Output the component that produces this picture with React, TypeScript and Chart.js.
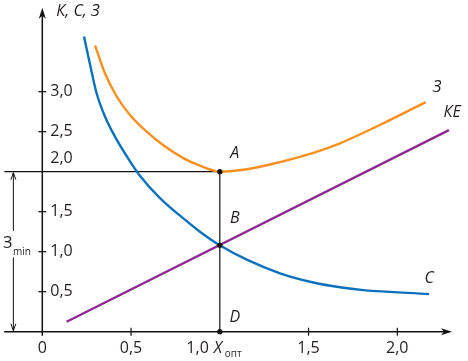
import React, { useEffect, useRef } from "react";
import { Chart, registerables } from "chart.js";
Chart.register(...registerables);

// Cost curve С (blue)
const cX = [0.235, 0.269, 0.306, 0.353, 0.419, 0.494, 0.55, 0.663, 0.776, 0.888, 1.0, 1.152, 1.339, 1.527, 1.677, 1.808, 2.179];
const cY = [3.69, 3.34, 2.98, 2.69, 2.4, 2.13, 1.95, 1.67, 1.45, 1.25, 1.08, 0.9, 0.73, 0.615, 0.555, 0.52, 0.47];
// Total curve З (orange)
const zX = [0.297, 0.353, 0.419, 0.494, 0.588, 0.682, 0.794, 0.888, 1.0, 1.152, 1.339, 1.527, 1.677, 1.94, 2.16];
const zY = [3.58, 3.23, 2.94, 2.71, 2.5, 2.33, 2.17, 2.075, 2.0, 2.03, 2.12, 2.235, 2.355, 2.625, 2.87];
// Line КЕ (purple)
const kX = [0.137, 2.291];
const kY = [0.125, 2.52];
// Marked points A, B, D
const ptX = [1.0, 1.0, 1.0];
const ptY = [2.0, 1.08, 0.0];
const ptNames = ["A", "B", "D"];
// Ticks
const xTickValues = [0, 0.5, 1.0, 1.5, 2.0];
const xTickLabels = ["0", "0,5", "1,0", "1,5", "2,0"];
const yTickValues = [0.5, 1.0, 1.5, 2.0, 2.5, 3.0];
const yTickLabels = ["0,5", "1,0", "1,5", "2,0", "2,5", "3,0"];

const BLUE = "#0a72bd";
const ORANGE = "#f7901e";
const PURPLE = "#8e2a8f";
const INK = "#231f20";
const FONT = "'Open Sans', 'Noto Sans', sans-serif";

const toPts = (xs: number[], ys: number[]) => xs.map((x, i) => ({ x, y: ys[i] }));

const overlay = {
  id: "overlay",
  afterDatasetsDraw(chart: any) {
    const ctx: CanvasRenderingContext2D = chart.ctx;
    const xs = chart.scales.x;
    const ys = chart.scales.y;
    const px = (v: number) => xs.getPixelForValue(v);
    const py = (v: number) => ys.getPixelForValue(v);
    const x0 = px(0);
    const y0 = py(0);
    ctx.save();
    ctx.strokeStyle = "#111";
    ctx.fillStyle = "#111";
    ctx.lineWidth = 1.5;
    // x axis
    ctx.beginPath();
    ctx.moveTo(px(-0.215), y0);
    ctx.lineTo(px(2.29), y0);
    ctx.stroke();
    const xt = px(2.308);
    ctx.beginPath();
    ctx.moveTo(xt, y0);
    ctx.lineTo(xt - 11, y0 - 3.5);
    ctx.lineTo(xt - 8, y0);
    ctx.lineTo(xt - 11, y0 + 3.5);
    ctx.closePath();
    ctx.fill();
    // y axis
    ctx.beginPath();
    ctx.moveTo(x0, py(-0.05));
    ctx.lineTo(x0, py(3.98));
    ctx.stroke();
    const yt = py(4.05);
    ctx.beginPath();
    ctx.moveTo(x0, yt);
    ctx.lineTo(x0 - 3.5, yt + 11);
    ctx.lineTo(x0, yt + 8);
    ctx.lineTo(x0 + 3.5, yt + 11);
    ctx.closePath();
    ctx.fill();
    // ticks
    ctx.lineWidth = 1.2;
    xTickValues.forEach((v) => {
      if (v === 0 || v === 1) return;
      ctx.beginPath();
      ctx.moveTo(px(v), y0 - 4);
      ctx.lineTo(px(v), y0 + 4);
      ctx.stroke();
    });
    yTickValues.forEach((v) => {
      if (v === 2) return;
      ctx.beginPath();
      ctx.moveTo(x0 - 4, py(v));
      ctx.lineTo(x0 + 4, py(v));
      ctx.stroke();
    });
    // tick labels
    ctx.fillStyle = INK;
    ctx.font = `16px ${FONT}`;
    ctx.textBaseline = "middle";
    xTickValues.forEach((v, i) => {
      if (v === 1) {
        ctx.textAlign = "right";
        ctx.fillText(xTickLabels[i], px(v) - 11, y0 + 17);
      } else {
        ctx.textAlign = "center";
        ctx.fillText(xTickLabels[i], px(v), y0 + 17);
      }
    });
    ctx.textAlign = "left";
    yTickValues.forEach((v, i) => {
      const yy = v === 2 ? py(v) - 13 : py(v);
      ctx.fillText(yTickLabels[i], x0 + 8, yy);
    });
    // X опт
    ctx.font = `italic 16px ${FONT}`;
    ctx.fillText("X", px(1) - 6, y0 + 17);
    ctx.font = `10px ${FONT}`;
    ctx.fillText("опт", px(1) + 5, y0 + 22);
    // axis title
    ctx.font = `italic 16px ${FONT}`;
    ctx.fillText("К, С, З", x0 + 14, py(4.0));
    // curve labels
    ctx.fillText("З", px(2.2), py(3.05));
    ctx.fillText("КЕ", px(2.26), py(2.74));
    ctx.textAlign = "center";
    ctx.fillText("С", px(2.18), py(0.66));
    ptNames.forEach((n, i) => {
      const off = i === 0 ? 0.23 : i === 1 ? 0.33 : 0.18;
      ctx.fillText(n, px(ptX[i]) + 15, py(ptY[i] + off));
    });
    // З min arrow
    const ax = px(-0.163);
    ctx.strokeStyle = "#111";
    ctx.lineWidth = 1;
    ctx.beginPath();
    ctx.moveTo(ax, py(2.0) + 1);
    ctx.lineTo(ax, py(1.26));
    ctx.moveTo(ax, py(0.93));
    ctx.lineTo(ax, y0 - 1);
    ctx.stroke();
    ctx.beginPath();
    ctx.moveTo(ax - 2.5, py(2.0) + 8);
    ctx.lineTo(ax, py(2.0) + 1);
    ctx.lineTo(ax + 2.5, py(2.0) + 8);
    ctx.moveTo(ax - 2.5, y0 - 8);
    ctx.lineTo(ax, y0 - 1);
    ctx.lineTo(ax + 2.5, y0 - 8);
    ctx.stroke();
    ctx.textAlign = "left";
    ctx.font = `16px ${FONT}`;
    ctx.fillText("З", 3, py(1.1));
    ctx.font = `10px ${FONT}`;
    ctx.fillText("min", 13, py(1.0));
    ctx.restore();
  },
};

export default function App() {
  const ref = useRef<HTMLCanvasElement | null>(null);
  useEffect(() => {
    if (!ref.current) return;
    const chart = new Chart(ref.current, {
      type: "scatter",
      data: {
        datasets: [
          {
            data: toPts(ptX, ptY),
            pointRadius: 2.6,
            pointBackgroundColor: "#111",
            pointBorderWidth: 0,
            showLine: false,
            order: 0,
          },
          {
            data: toPts(zX, zY),
            showLine: true,
            borderColor: ORANGE,
            borderWidth: 2.4,
            pointRadius: 0,
            cubicInterpolationMode: "monotone",
            order: 1,
          },
          {
            data: toPts(cX, cY),
            showLine: true,
            borderColor: BLUE,
            borderWidth: 2.4,
            pointRadius: 0,
            cubicInterpolationMode: "monotone",
            order: 1,
          },
          {
            data: toPts(kX, kY),
            showLine: true,
            borderColor: PURPLE,
            borderWidth: 2.4,
            pointRadius: 0,
            order: 1,
          },
          {
            data: [
              { x: -0.214, y: 2.0 },
              { x: 1.0, y: 2.0 },
              { x: 1.0, y: 0 },
            ],
            showLine: true,
            borderColor: "#111",
            borderWidth: 1.2,
            pointRadius: 0,
            tension: 0,
            order: 2,
          },
        ],
      },
      options: {
        animation: false,
        responsive: false,
        devicePixelRatio: 1,
        layout: { padding: 0, autoPadding: false },
        plugins: { legend: { display: false }, tooltip: { enabled: false } },
        scales: {
          x: { type: "linear", min: -0.2383, max: 2.3983, display: false },
          y: { type: "linear", min: -0.36625, max: 4.14625, display: false },
        },
      } as any,
      plugins: [overlay],
    });
    return () => chart.destroy();
  }, []);
  return (
    <div style={{ position: "absolute", left: 0, top: 0, width: 468, height: 361, background: "#fff" }}>
      <canvas ref={ref} width={468} height={361} />
    </div>
  );
}
